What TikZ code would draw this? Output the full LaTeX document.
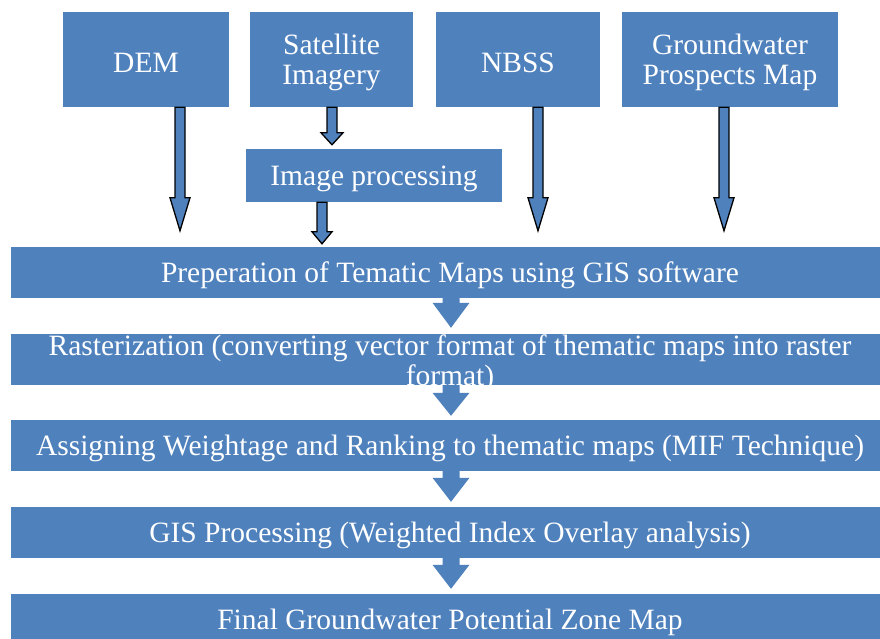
\documentclass[tikz,border=0pt]{standalone}
\usepackage{fontspec}
\setmainfont{Liberation Serif}
\usetikzlibrary{calc}
\definecolor{boxblue}{HTML}{4F81BD}
\tikzset{
  box/.style={fill=boxblue, draw=none, inner sep=0pt},
  boxtext/.style={text=white, font=\fontsize{29.5}{30}\selectfont, align=center,
    inner sep=0pt, yshift=-3pt},
  thinarrow/.style={fill=boxblue, draw=black, line width=1.3pt, line join=miter},
  widearrow/.style={fill=boxblue, draw=none},
}
% block arrow: style, start, tip, shaft half width, head half width, head length
\newcommand\blockarrow[6]{%
  \path[#1] let \p1=(#2), \p2=(#3) in
    (\x1-#4,\y1) -- (\x1-#4,\y2+#6) -- (\x1-#5,\y2+#6) -- (\x1,\y2)
    -- (\x1+#5,\y2+#6) -- (\x1+#4,\y2+#6) -- (\x1+#4,\y1) -- cycle;}
\begin{document}
\begin{tikzpicture}[x=1pt,y=1pt]
  \useasboundingbox (0,0) rectangle (880,639);
  \clip (0,0) rectangle (880,639);

  % source data boxes
  \node[box, minimum width=166, minimum height=95,
    label={[boxtext]center:DEM}] (dem) at (146,579.5) {};
  \node[box, minimum width=163, minimum height=95,
    label={[boxtext]center:Satellite\\Imagery}] (sat) at (331.5,579.5) {};
  \node[box, minimum width=164, minimum height=95,
    label={[boxtext]center:NBSS}] (nbss) at (518,579.5) {};
  \node[box, minimum width=216, minimum height=95,
    label={[boxtext]center:Groundwater\\Prospects Map}] (gw) at (730,579.5) {};
  \node[box, minimum width=256, minimum height=53,
    label={[boxtext]center:Image processing}] (imgp) at (374,463.5) {};

  % processing chain
  \node[box, minimum width=878, minimum height=51,
    label={[boxtext]center:Preperation of Tematic Maps using GIS software}] (prep) at (450,366.5) {};
  \node[box, minimum width=878, minimum height=51] (rast) at (450,279.5) {};
  \node[boxtext] (rasttext) at (450,278.5)
    {Rasterization (converting vector format of thematic maps into raster\\format)};
  \node[box, minimum width=878, minimum height=51,
    label={[boxtext]center:Assigning Weightage and Ranking to thematic maps (MIF Technique)}] (assign) at (450,193.5) {};
  \node[box, minimum width=878, minimum height=51,
    label={[boxtext]center:GIS Processing (Weighted Index Overlay analysis)}] (gisp) at (450,106.5) {};
  \node[box, minimum width=878, minimum height=50,
    label={[boxtext]center:Final Groundwater Potential Zone Map}] (final) at (450,20) {};

  % arrows from the source boxes
  \blockarrow{thinarrow}{$(dem.south)+(34,0)$}{$(prep.north -| 180,0)+(0,16)$}{5pt}{10pt}{33pt}
  \blockarrow{thinarrow}{$(sat.south)+(0.5,0)$}{$(imgp.north -| 332,0)+(0,4)$}{5pt}{11pt}{12pt}
  \blockarrow{thinarrow}{$(imgp.south)+(-52,0)$}{$(prep.north -| 322,0)+(0,3)$}{5pt}{10pt}{12pt}
  \blockarrow{thinarrow}{$(nbss.south)+(20,0)$}{$(prep.north -| 538,0)+(0,16)$}{5pt}{10pt}{33pt}
  \blockarrow{thinarrow}{$(gw.south)+(-6,0)$}{$(prep.north -| 724,0)+(0,16)$}{5pt}{10pt}{33pt}

  % arrows along the chain
  \blockarrow{widearrow}{$(prep.south)+(1,0)$}{$(rast.north)+(1,6)$}{8.5pt}{18.5pt}{25pt}
  \blockarrow{widearrow}{$(rast.south)+(1,0)$}{$(assign.north)+(1,4)$}{8.5pt}{18.5pt}{23pt}
  \blockarrow{widearrow}{$(assign.south)+(1,0)$}{$(gisp.north)+(1,5)$}{8.5pt}{18.5pt}{24pt}
  \blockarrow{widearrow}{$(gisp.south)+(1,0)$}{$(final.north)+(1,5)$}{8.5pt}{18.5pt}{24pt}
\end{tikzpicture}
\end{document}
